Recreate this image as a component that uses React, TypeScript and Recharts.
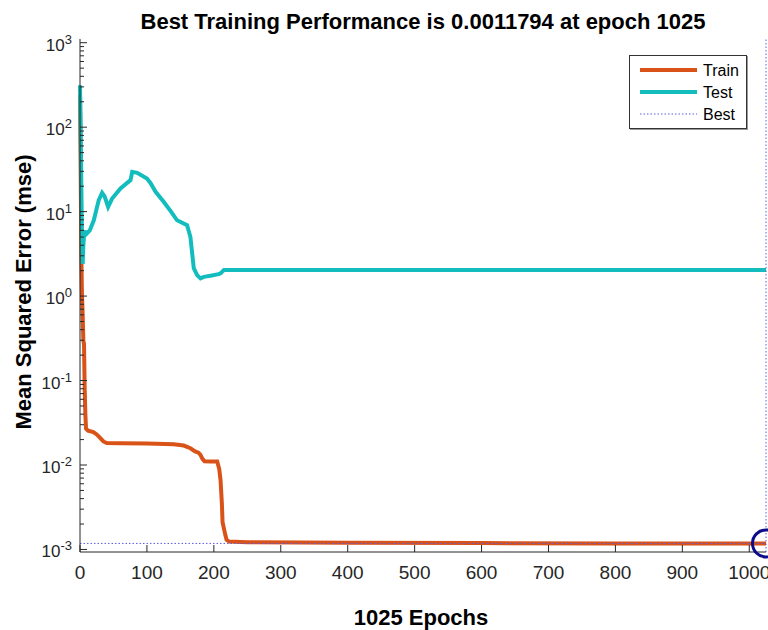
import React from 'react';
import { LineChart, Line, XAxis, YAxis, ReferenceLine, ReferenceDot, Legend } from 'recharts';

// Training curve (mse per epoch)
const trainEpochs = [0, 1, 2, 3, 4, 5, 6, 7, 8, 9, 12, 20, 25, 30, 35, 40, 60, 100, 140, 155, 165, 172, 177, 180, 183, 186, 195, 205, 208, 210, 212, 213, 215, 217, 219, 223, 250, 400, 600, 800, 1025];
const trainValues = [240, 30, 3, 1.0, 0.6, 0.3, 0.27, 0.08, 0.04, 0.027, 0.0255, 0.0245, 0.023, 0.021, 0.019, 0.0182, 0.0181, 0.018, 0.0176, 0.017, 0.0158, 0.0145, 0.014, 0.0132, 0.0118, 0.0111, 0.011, 0.011, 0.009, 0.0066, 0.0035, 0.0021, 0.00178, 0.0015, 0.0013, 0.00124, 0.00122, 0.0012, 0.00119, 0.00118, 0.0011794];

// Test curve
const testEpochs = [0, 1, 2, 3, 4, 5, 6.7, 8.2, 11, 14.6, 20.6, 28, 33, 37, 42, 48, 60.5, 75.5, 78, 85.5, 100, 105, 113, 125, 136, 145, 160, 165, 168, 170, 175, 180, 185, 197, 207, 210, 215, 1025];
const testValues = [314, 100, 20, 5, 2.4, 4, 6.0, 5.3, 5.6, 6.0, 7.9, 13.7, 16.7, 15, 11.4, 14.3, 18.8, 23.6, 29.6, 28.8, 24.7, 22, 17.2, 13.1, 10, 7.9, 6.9, 5.0, 3.0, 2.14, 1.77, 1.62, 1.69, 1.75, 1.82, 1.86, 2.03, 2.03];

const bestEpoch = 1025;
const bestValue = 0.0011794;

const xTicks = [0, 100, 200, 300, 400, 500, 600, 700, 800, 900, 1000];
const yMajor = [-3, -2, -1, 0, 1, 2, 3];

const trainData = trainEpochs.map((e, i) => ({ epoch: e, mse: trainValues[i] }));
const testData = testEpochs.map((e, i) => ({ epoch: e, mse: testValues[i] }));

const yTicks: number[] = [];
yMajor.forEach((p) => {
  for (let m = 1; m <= 9; m++) {
    if (p === 3 && m > 1) break;
    yTicks.push(m * Math.pow(10, p));
  }
});

const FONT = '"Liberation Sans", Arial, Helvetica, sans-serif';
const INK = '#262626';
const TRAIN = '#D95319';
const TEST = '#14BDBD';
const BEST = '#5a5ae6';

const YTick = ({ x, y, payload }: any) => {
  const v = payload.value;
  const p = Math.round(Math.log10(v));
  const major = Math.abs(v - Math.pow(10, p)) < 1e-6 * v;
  return (
    <g>
      <line x1={x} x2={x + (major ? 7 : 4)} y1={y} y2={y} stroke={INK} strokeWidth={1} />
      {major && (
        <text x={x - 8} y={y + 8} textAnchor="end" fontFamily={FONT} fontSize={17} fill={INK}>
          10
          <tspan dy={-7} fontSize={13}>
            {p}
          </tspan>
        </text>
      )}
    </g>
  );
};

const XTick = ({ x, y, payload }: any) => (
  <g>
    <line x1={x} x2={x} y1={y} y2={y - 7} stroke={INK} strokeWidth={1} />
    <text x={x} y={y + 26.5} textAnchor="middle" fontFamily={FONT} fontSize={19} fill={INK}>
      {payload.value}
    </text>
  </g>
);

const LegendBox = () => (
  <div style={{ width: 118, height: 74, border: '1px solid #333', boxShadow: '1px 1px 0 #999', background: '#fff', boxSizing: 'border-box' }}>
    <svg width={116} height={72}>
      <line x1={10} x2={67} y1={14} y2={14} stroke={TRAIN} strokeWidth={4} />
      <line x1={10} x2={67} y1={36} y2={36} stroke={TEST} strokeWidth={4} />
      <line x1={10} x2={67} y1={58} y2={58} stroke={BEST} strokeWidth={1} strokeDasharray="1.5 2" />
      <text x={73} y={20} fontFamily={FONT} fontSize={16} fill="#000">Train</text>
      <text x={73} y={42} fontFamily={FONT} fontSize={16} fill="#000">Test</text>
      <text x={73} y={64} fontFamily={FONT} fontSize={16} fill="#000">Best</text>
    </svg>
  </div>
);

const yMin = Math.pow(10, -3.03);
const yMax = Math.pow(10, 3.044);

export default function App() {
  return (
    <div style={{ position: 'absolute', left: 0, top: 0, width: 768, height: 630, overflow: 'hidden', background: '#fff', fontFamily: FONT }}>
      <div style={{ position: 'absolute', left: 0, width: 846, top: 8.5, textAlign: 'center', fontSize: 22, lineHeight: 'normal', fontWeight: 'bold', color: '#000' }}>
        Best Training Performance is 0.0011794 at epoch 1025
      </div>
      <LineChart width={768} height={630} margin={{ top: 39, right: 2, bottom: 0, left: 0 }}>
        <XAxis
          dataKey="epoch"
          type="number"
          domain={[0, 1025]}
          ticks={xTicks}
          height={78}
          tickLine={false}
          tickSize={0}
          tickMargin={0}
          tick={<XTick />}
          axisLine={{ stroke: INK }}
          label={{
            value: '1025 Epochs',
            position: 'insideBottom',
            content: () => (
              <text x={421} y={625} textAnchor="middle" fontFamily={FONT} fontSize={22} fontWeight="bold" fill="#000">
                1025 Epochs
              </text>
            ),
          }}
        />
        <YAxis
          type="number"
          scale="log"
          domain={[yMin, yMax]}
          ticks={yTicks}
          width={80}
          tickLine={false}
          tickSize={0}
          tickMargin={0}
          tick={<YTick />}
          interval={0}
          axisLine={{ stroke: INK }}
          label={{
            value: 'Mean Squared Error  (mse)',
            angle: -90,
            position: 'insideLeft',
            content: () => (
              <text x={31} y={292} transform="rotate(-90, 31, 292)" textAnchor="middle" fontFamily={FONT} fontSize={22} fontWeight="bold" fill="#000">
                Mean Squared Error  (mse)
              </text>
            ),
          }}
        />
        <Line data={trainData} dataKey="mse" name="Train" type="linear" stroke={TRAIN} strokeWidth={4} dot={false} isAnimationActive={false} />
        <Line data={testData} dataKey="mse" name="Test" type="linear" stroke={TEST} strokeWidth={4} dot={false} isAnimationActive={false} />
        <ReferenceLine y={bestValue} stroke={BEST} strokeWidth={1} strokeDasharray="1.5 2" />
        <ReferenceLine x={bestEpoch} stroke={BEST} strokeWidth={1} strokeDasharray="1.5 2" />
        <ReferenceDot x={bestEpoch} y={bestValue} r={13.5} fill="none" stroke="#0b0b8c" strokeWidth={3} />
        <Legend
          layout="vertical"
          align="center"
          verticalAlign="middle"
          content={<LegendBox />}
          wrapperStyle={{ position: 'absolute', left: 629, top: 55, width: 118, height: 74 }}
        />
      </LineChart>
    </div>
  );
}
